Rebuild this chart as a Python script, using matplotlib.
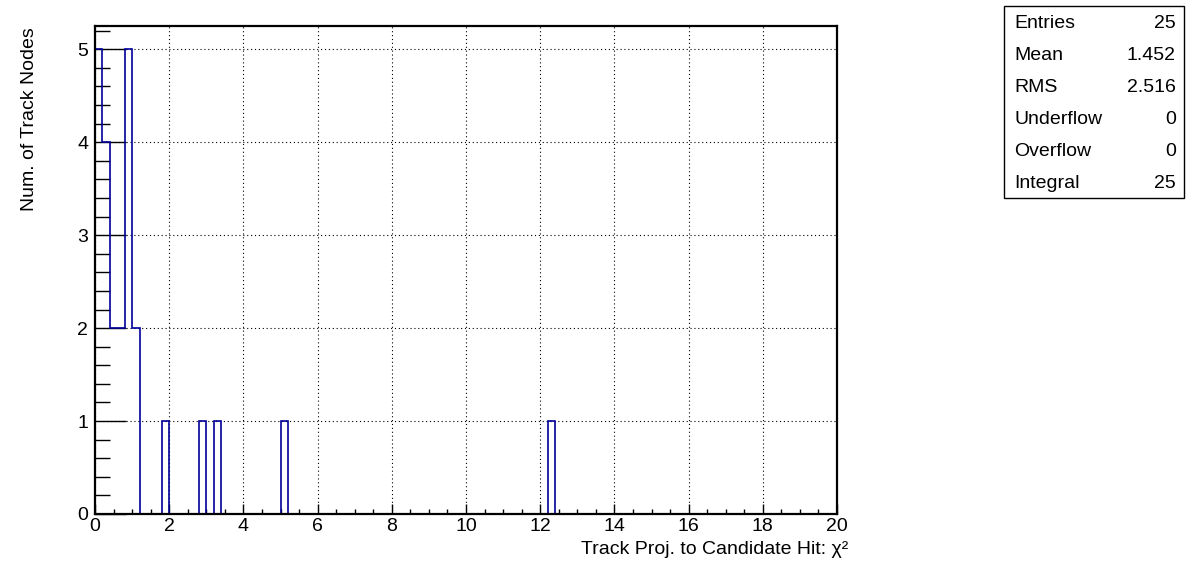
import matplotlib
matplotlib.use("Agg")
import matplotlib.pyplot as plt
import matplotlib.patches as mpatches
from matplotlib.ticker import MultipleLocator
import numpy as np

# ── Data (bin centres of filled bins and their counts) ───────────────────────
chi2_centres = [0.1, 0.3, 0.5, 0.7, 0.9, 1.1, 1.9, 2.9, 3.3, 5.1, 12.3]
chi2_counts = [5, 4, 2, 2, 5, 2, 1, 1, 1, 1, 1]
n_bins = 100
x_range = (0, 20)

stat_names = ["Entries", "Mean", "RMS", "Underflow", "Overflow", "Integral"]
stat_values = ["25", "1.452", "2.516", "0", "0", "25"]

LINE_COLOR = "#000099"
FONT = "Liberation Sans"
FS = 14
W, H = 1196, 572

plt.rcParams["font.family"] = [FONT, "DejaVu Sans"]

counts, edges = np.histogram(chi2_centres, bins=n_bins, range=x_range,
                             weights=chi2_counts)

fig = plt.figure(figsize=(W / 100, H / 100), dpi=100)
ax = fig.add_axes([95 / W, 1 - 514 / H, (837 - 95) / W, (514 - 26) / H])

ax.stairs(counts, edges, color=LINE_COLOR, linewidth=1.2, baseline=0)

ax.set_xlim(*x_range)
ax.set_ylim(0, 5.25)

ax.xaxis.set_major_locator(MultipleLocator(2))
ax.xaxis.set_minor_locator(MultipleLocator(0.5))
ax.yaxis.set_major_locator(MultipleLocator(1))
ax.yaxis.set_minor_locator(MultipleLocator(0.2))

ax.tick_params(axis="x", which="major", direction="in", length=7, width=1,
               labelsize=FS, pad=3, top=False)
ax.tick_params(axis="x", which="minor", direction="in", length=3.5, width=1,
               top=False)
ax.tick_params(axis="y", which="major", direction="in", length=22, width=1,
               labelsize=FS, pad=5, right=False)
ax.tick_params(axis="y", which="minor", direction="in", length=11, width=1,
               right=False)

for s in ax.spines.values():
    s.set_linewidth(1.6)
    s.set_color("black")

ax.grid(True, which="major", color="black", linewidth=0.8,
        linestyle=(0, (1, 2.5)))
ax.set_axisbelow(True)

# Axis titles, ROOT style (aligned to axis ends)
fig.text(848 / W, 1 - 554 / H, "Track Proj. to Candidate Hit: χ²",
         ha="right", va="baseline", fontsize=FS)
fig.text(30 / W, 1 - 27 / H, "Num. of Track Nodes", rotation=90,
         ha="center", va="top", fontsize=FS)

# ── Stats box ──
bx0, by0, bx1, by1 = 1004, 6, 1184, 198
fig.patches.append(mpatches.Rectangle(
    (bx0 / W, 1 - by1 / H), (bx1 - bx0) / W, (by1 - by0) / H,
    transform=fig.transFigure, facecolor="white", edgecolor="black",
    linewidth=1.0))
row_h = (by1 - by0) / len(stat_names)
for i, (name, val) in enumerate(zip(stat_names, stat_values)):
    yc = by0 + row_h * (i + 0.5) + 2
    fig.text(1014 / W, 1 - yc / H, name, ha="left", va="center", fontsize=FS)
    fig.text(1176 / W, 1 - yc / H, val, ha="right", va="center", fontsize=FS)

fig.savefig("out.png", dpi=100, facecolor="white")
